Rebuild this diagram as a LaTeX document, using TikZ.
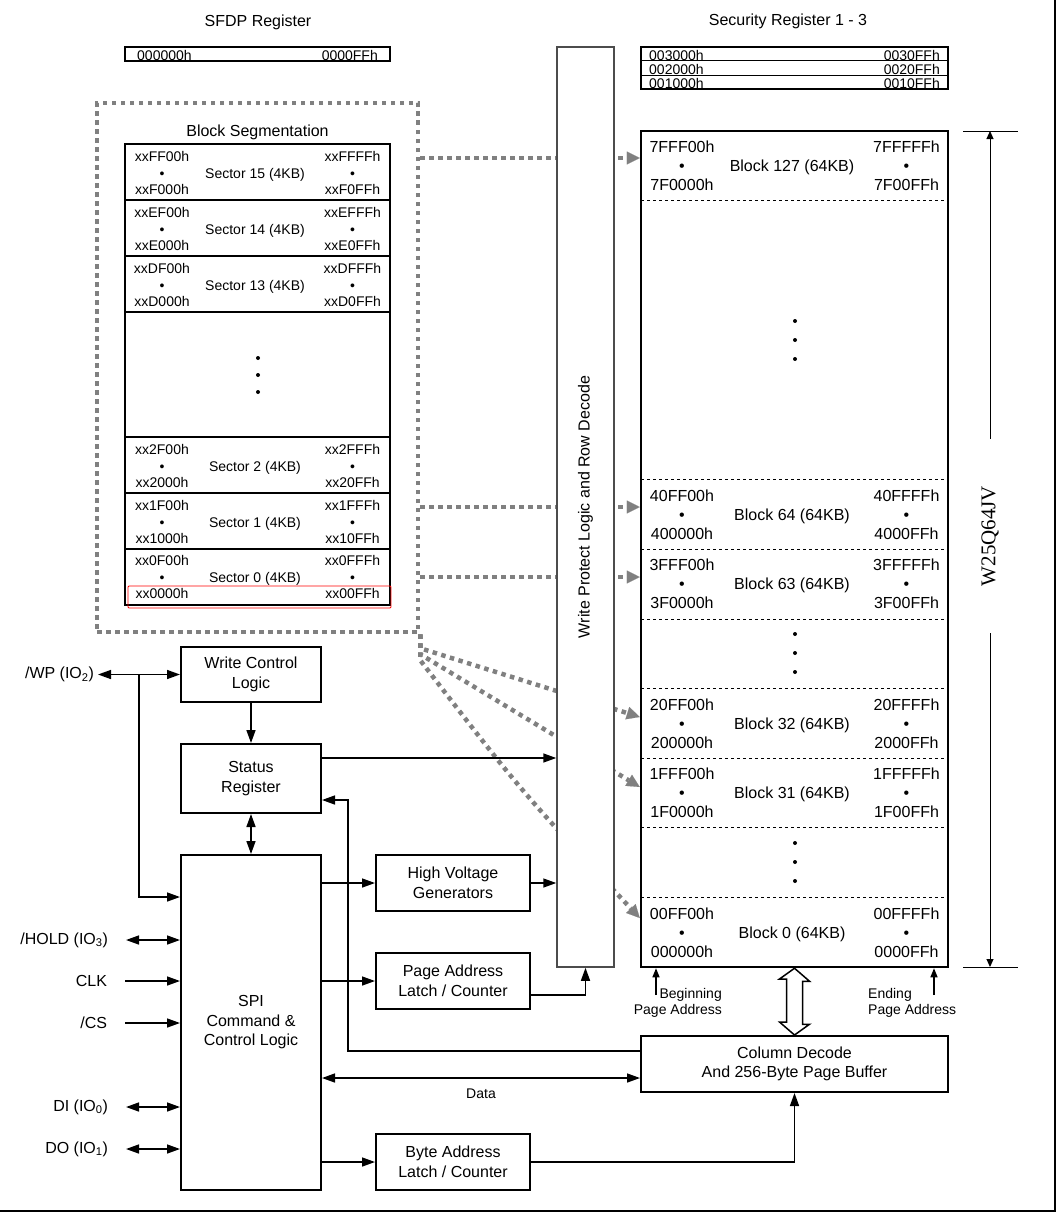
\documentclass[tikz,border=0pt]{standalone}
\usepackage{fontspec}
\setmainfont{Liberation Sans}
\newfontfamily\chipfont{Liberation Serif}
\usetikzlibrary{arrows.meta}
\tikzset{
    BX/.style ={rectangle, draw, line width=2pt, align=center, inner sep=2pt, font={\fontsize{16}{19.5}\selectfont}},
    WPB/.style ={rectangle, draw=black!70, line width=1.5pt, fill=white, minimum width=57pt, minimum height=920pt},
    TT/.style ={inner sep=0pt, font={\fontsize{16}{19}\selectfont}},
    SM/.style ={inner sep=0pt, font={\fontsize{14}{16}\selectfont}},
    BL/.style ={TT, yshift=-1.5pt},
    SL/.style ={SM, yshift=-1.5pt},
    AD1/.style ={align=center, inner sep=0pt, font={\fontsize{14}{16.5}\selectfont}},
    AD2/.style ={align=center, inner sep=0pt, font={\fontsize{16}{19}\selectfont}},
    LB/.style ={anchor=east, inner sep=0pt, outer xsep=18pt, font={\fontsize{16}{19}\selectfont}},
    AR/.style ={line width=1.5pt, -{Triangle[length=13pt,width=9pt]}},
    DAR/.style ={line width=1.5pt, {Triangle[length=13pt,width=9pt]}-{Triangle[length=13pt,width=9pt]}},
    SAR/.style ={line width=1.3pt, -{Triangle[length=9pt,width=7pt]}},
    DIM/.style ={line width=1pt, -{Triangle[length=8pt,width=7pt]}},
    GD/.style ={draw=gray, line width=4.5pt, dash pattern=on 4.5pt off 4.5pt},
    GDA/.style ={GD, -{Triangle[length=13pt,width=13pt,line width=0.1pt,fill=gray]}}}

\begin{document}
\begin{tikzpicture}[x=1pt,y=-1pt]
        \useasboundingbox (0,0) rectangle (1058,1231);
        \node[TT,anchor=base] (sfdpt) at (258,26.5) {SFDP Register};
        \node[TT,anchor=base] (sect) at (788,26) {Security Register 1 - 3};
        \node[SM,anchor=base west] (sfdpa) at (137,61) {000000h};
        \node[SM,anchor=base east] (sfdpb) at (378,61) {0000FFh};
        \node[rectangle,draw,line width=2pt,minimum width=265pt,minimum height=14pt] (sfdp) at (257.5,54) {};
        \node[SM,anchor=base west] (sr3a) at (649,60) {003000h};
        \node[SM,anchor=base east] (sr3b) at (940,60) {0030FFh};
        \node[SM,anchor=base west] (sr2a) at (649,74.5) {002000h};
        \node[SM,anchor=base east] (sr2b) at (940,74.5) {0020FFh};
        \node[SM,anchor=base west] (sr1a) at (649,88.5) {001000h};
        \node[SM,anchor=base east] (sr1b) at (940,88.5) {0010FFh};
        \draw[line width=1pt] (641,61) -- (948,61);
        \draw[line width=1pt] (641,75) -- (948,75);
        \node[rectangle,draw,line width=2pt,minimum width=307pt,minimum height=42pt] (sec) at (794.5,68) {};
        \node[GD,rectangle,minimum width=321pt,minimum height=529pt] (seg) at (257.5,367.5) {};
        \node[TT,anchor=base] (segt) at (257.5,136.5) {Block Segmentation};
        \node[rectangle,draw,line width=2.5pt,minimum width=265pt,minimum height=461pt] (sectab) at (257.5,374.5) {};
        \draw[line width=1.5pt] (125,200) -- (390,200);
        \draw[line width=1.5pt] (125,256) -- (390,256);
        \draw[line width=1.5pt] (125,312) -- (390,312);
        \draw[line width=1.5pt] (125,437) -- (390,437);
        \draw[line width=1.5pt] (125,493) -- (390,493);
        \draw[line width=1.5pt] (125,549) -- (390,549);
        \node[AD1] (s15a) at (162,173) {xxFF00h\\\textbullet\\xxF000h};
        \node[SL] (s15) at (255,173) {Sector 15 (4KB)};
        \node[AD1] (s15b) at (352.5,173) {xxFFFFh\\\textbullet\\xxF0FFh};
        \node[AD1] (s14a) at (162,229) {xxEF00h\\\textbullet\\xxE000h};
        \node[SL] (s14) at (255,229) {Sector 14 (4KB)};
        \node[AD1] (s14b) at (352.5,229) {xxEFFFh\\\textbullet\\xxE0FFh};
        \node[AD1] (s13a) at (162,285) {xxDF00h\\\textbullet\\xxD000h};
        \node[SL] (s13) at (255,285) {Sector 13 (4KB)};
        \node[AD1] (s13b) at (352.5,285) {xxDFFFh\\\textbullet\\xxD0FFh};
        \node[AD1] (s2a) at (162,466) {xx2F00h\\\textbullet\\xx2000h};
        \node[SL] (s2) at (255,466) {Sector 2 (4KB)};
        \node[AD1] (s2b) at (352.5,466) {xx2FFFh\\\textbullet\\xx20FFh};
        \node[AD1] (s1a) at (162,522) {xx1F00h\\\textbullet\\xx1000h};
        \node[SL] (s1) at (255,522) {Sector 1 (4KB)};
        \node[AD1] (s1b) at (352.5,522) {xx1FFFh\\\textbullet\\xx10FFh};
        \node[AD1] (s0a) at (162,577) {xx0F00h\\\textbullet\\xx0000h};
        \node[SL] (s0) at (255,577) {Sector 0 (4KB)};
        \node[AD1] (s0b) at (352.5,577) {xx0FFFh\\\textbullet\\xx00FFh};
        \fill (258,358) circle (2pt);
        \fill (258,375) circle (2pt);
        \fill (258,392) circle (2pt);
        \draw[red,line width=0.8pt,rounded corners=1pt] (128,586) rectangle (391,608);
        \node[rectangle,draw,line width=2.5pt,minimum width=307pt,minimum height=836pt] (mem) at (794.5,549) {};
        \draw[dashed,line width=0.8pt] (641,200) -- (948,200);
        \draw[dashed,line width=0.8pt] (641,479) -- (948,479);
        \draw[dashed,line width=0.8pt] (641,549) -- (948,549);
        \draw[dashed,line width=0.8pt] (641,619) -- (948,619);
        \draw[dashed,line width=0.8pt] (641,688) -- (948,688);
        \draw[dashed,line width=0.8pt] (641,758) -- (948,758);
        \draw[dashed,line width=0.8pt] (641,827) -- (948,827);
        \draw[dashed,line width=0.8pt] (641,897) -- (948,897);
        \node[AD2] (b127a) at (682,166) {7FFF00h\\\textbullet\\7F0000h};
        \node[BL] (b127) at (792,166) {Block 127 (64KB)};
        \node[AD2] (b127b) at (906.5,166) {7FFFFFh\\\textbullet\\7F00FFh};
        \node[AD2] (b64a) at (682,514.5) {40FF00h\\\textbullet\\400000h};
        \node[BL] (b64) at (792,514.5) {Block 64 (64KB)};
        \node[AD2] (b64b) at (906.5,514.5) {40FFFFh\\\textbullet\\4000FFh};
        \node[AD2] (b63a) at (682,584) {3FFF00h\\\textbullet\\3F0000h};
        \node[BL] (b63) at (792,584) {Block 63 (64KB)};
        \node[AD2] (b63b) at (906.5,584) {3FFFFFh\\\textbullet\\3F00FFh};
        \node[AD2] (b32a) at (682,724) {20FF00h\\\textbullet\\200000h};
        \node[BL] (b32) at (792,724) {Block 32 (64KB)};
        \node[AD2] (b32b) at (906.5,724) {20FFFFh\\\textbullet\\2000FFh};
        \node[AD2] (b31a) at (682,793) {1FFF00h\\\textbullet\\1F0000h};
        \node[BL] (b31) at (792,793) {Block 31 (64KB)};
        \node[AD2] (b31b) at (906.5,793) {1FFFFFh\\\textbullet\\1F00FFh};
        \node[AD2] (b0a) at (682,932.5) {00FF00h\\\textbullet\\000000h};
        \node[BL] (b0) at (792,932.5) {Block 0 (64KB)};
        \node[AD2] (b0b) at (906.5,932.5) {00FFFFh\\\textbullet\\0000FFh};
        \fill (795,321) circle (2pt);
        \fill (795,340) circle (2pt);
        \fill (795,359) circle (2pt);
        \fill (795,634) circle (2pt);
        \fill (795,653) circle (2pt);
        \fill (795,672) circle (2pt);
        \fill (795,843) circle (2pt);
        \fill (795,862) circle (2pt);
        \fill (795,881) circle (2pt);
        \coordinate (dt) at (990,131);
        \coordinate (db) at (990,967);
        \draw[line width=1pt] (963,131) -- (1018,131);
        \draw[line width=1pt] (963,967) -- (1018,967);
        \node[inner sep=0pt,outer xsep=47pt,rotate=90,font={\chipfont\fontsize{21}{24}\selectfont}] (chip) at (990,536) {W25Q64JV};
        \draw[DIM] (chip.east) -- (dt);
        \draw[DIM] (chip.west) -- (db);
        \draw[GDA] (seg.east |- 0,158) -- (mem.west |- 0,158);
        \draw[GDA] (seg.east |- 0,507) -- (mem.west |- 0,507);
        \draw[GDA] (seg.east |- 0,577) -- (mem.west |- 0,577);
        \draw[GDA] (seg.south east) -- ++(0,14) -- (mem.west |- 0,717);
        \draw[GDA] (seg.south east) -- ++(0,20) -- (mem.west |- 0,787);
        \draw[GDA] (seg.south east) -- ++(0,26) .. controls (520,790) .. (mem.west |- 0,918);
        \node[WPB] (wp) at (585.5,507) {};
        \node[TT,rotate=90] (wpt) at (wp) {Write Protect Logic and Row Decode};
        \node[BX,minimum width=140pt,minimum height=55pt] (wcl) at (251,674.5) {Write Control\\Logic};
        \node[BX,minimum width=140pt,minimum height=69pt] (stat) at (251,778.5) {Status\\Register};
        \node[BX,minimum width=140pt,minimum height=335pt] (spi) at (251,1022.5) {SPI\\Command \&\\Control Logic};
        \node[BX,minimum width=154pt,minimum height=56pt] (hvg) at (453,883) {High Voltage\\Generators};
        \node[BX,minimum width=154pt,minimum height=56pt] (pal) at (453,981) {Page Address\\Latch / Counter};
        \node[BX,minimum width=154pt,minimum height=56pt] (bal) at (453,1162) {Byte Address\\Latch / Counter};
        \node[BX,minimum width=307pt,minimum height=56pt] (col) at (794.5,1064) {Column Decode\\And 256-Byte Page Buffer};
        \node[LB,outer xsep=4pt] (wpl) at (98,674.5) {/WP (IO\textsubscript{2})};
        \node[LB] (hold) at (126,940) {/HOLD (IO\textsubscript{3})};
        \node[LB] (clk) at (125,981) {CLK};
        \node[LB] (cs) at (125,1023) {/CS};
        \node[LB] (dil) at (126,1107) {DI (IO\textsubscript{0})};
        \node[LB] (dol) at (126,1149) {DO (IO\textsubscript{1})};
        \coordinate (wpbr) at (139,674.5);
        \draw[DAR] (wpl) -- (wpl -| wcl.west);
        \draw[AR] (wpbr) |- (spi.west |- 0,897);
        \draw[DAR] (hold) -- (hold -| spi.west);
        \draw[AR] (clk) -- (clk -| spi.west);
        \draw[AR] (cs) -- (cs -| spi.west);
        \draw[DAR] (dil) -- (dil -| spi.west);
        \draw[DAR] (dol) -- (dol -| spi.west);
        \draw[AR] (wcl) -- (stat);
        \draw[DAR] (stat) -- (spi);
        \draw[AR] (stat.east |- 0,758) -- (wp.west |- 0,758);
        \draw[AR] (col.west |- 0,1051) -| (348,800) -- (stat.east |- 0,800);
        \draw[AR] (spi.east |- hvg) -- (hvg);
        \draw[AR] (hvg) -- (hvg -| wp.west);
        \draw[AR] (spi.east |- pal) -- (pal);
        \draw[AR] (pal.east |- 0,995) -| (wp.south);
        \draw[DAR] (spi.east |- 0,1078) -- (col.west |- 0,1078) node[SM,midway,below=10pt] (dtl) {Data};
        \draw[AR] (spi.east |- bal) -- (bal);
        \draw[AR] (bal) -| (col.south);
        \draw[line width=1.5pt,fill=white] (mem.south) -- ++(15,13) -- ++(-7,0) -- ++(0,43) -- ++(7,0) -- (col.north) -- ++(-15,-13) -- ++(7,0) -- ++(0,-43) -- ++(-7,0) -- cycle;
        \coordinate (bpa) at (656,995);
        \coordinate (epa) at (934,995);
        \draw[SAR] (bpa) -- (bpa |- mem.south);
        \draw[SAR] (epa) -- (epa |- mem.south);
        \node[SM,align=right,anchor=east] (bpat) at (722,1003) {Beginning\\Page Address};
        \node[SM,align=left,anchor=west] (epat) at (868,1003) {Ending\\Page Address};
        \draw[line width=2pt] (1055,0) -- (1055,1211) -- (0,1211);
    \end{tikzpicture}
\end{document}
